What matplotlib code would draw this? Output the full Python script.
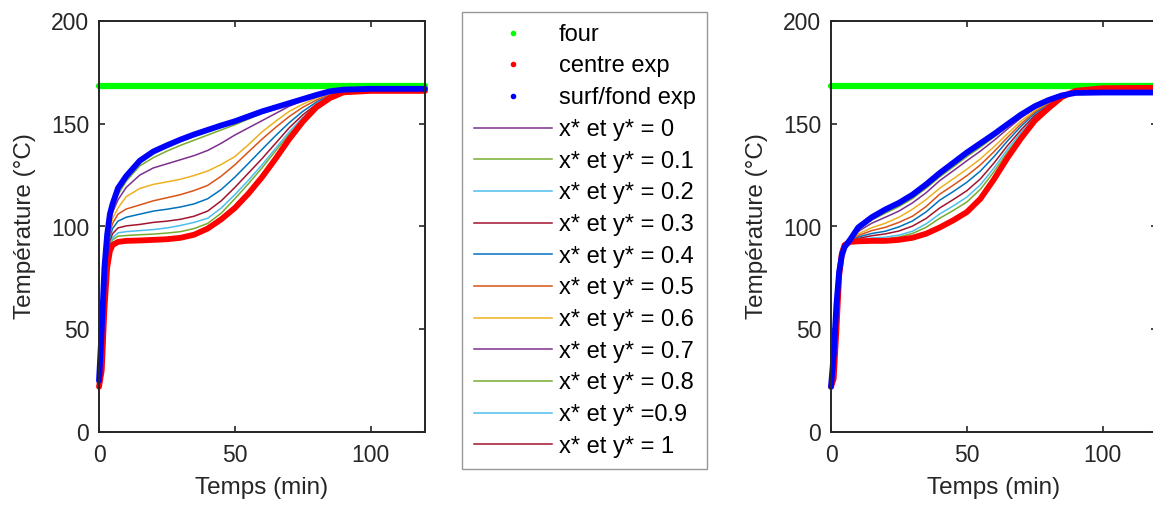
import matplotlib
matplotlib.use('Agg')
import matplotlib.pyplot as plt
from matplotlib.lines import Line2D

plt.rcParams['font.family'] = ['Liberation Sans', 'DejaVu Sans']

# temps (min)
t = [0, 1, 2, 3, 4, 5, 7, 10, 15, 20, 25, 30, 35, 40, 45, 50, 55, 60, 65, 70, 75, 80, 85, 90, 100, 120]

# four (consigne)
four = [168.4] * 26

# ---- graphe de gauche ----
centre_g = [22, 30, 60, 80, 88, 91, 92.5, 93, 93.2, 93.5, 93.8, 94.5, 96, 99, 103.5, 109, 116, 124, 133, 142.5, 151, 158, 162.5, 165.3, 166, 166]
surf_g = [25, 50, 80, 96, 106, 111, 118.7, 124.5, 132, 136.5, 139.5, 142.3, 144.8, 147, 149.2, 151.2, 153.6, 156, 158, 160, 162, 164, 165.8, 166.6, 167, 167]

g_00 = [22, 31, 61, 81, 89, 91.5, 93, 93.3, 93.6, 94, 94.4, 95, 96.7, 99.5, 104.3, 110, 117, 125, 134, 143, 151.3, 158.2, 162.7, 165.5, 166.2, 166.4]
g_01 = [22, 34, 63, 82, 90, 93.5, 95.3, 95.6, 96, 96.3, 96.8, 97.5, 99, 101.5, 106.5, 113.5, 120.8, 128.5, 136.8, 145, 152.3, 158.5, 163, 165.6, 166.3, 166.4]
g_02 = [23, 36, 65, 83, 91, 94.5, 96.9, 97.5, 98, 98.5, 99.3, 100.5, 102, 104, 109, 115.5, 122.5, 130, 138, 146, 153, 159, 163.2, 165.7, 166.3, 166.4]
g_03 = [23, 38, 67, 85, 93, 96.5, 99.3, 100.3, 101, 102, 102.6, 103.5, 105, 107.5, 112.5, 119, 126, 133, 140.5, 148, 154.3, 159.5, 163.5, 165.8, 166.4, 166.5]
g_04 = [23, 40, 70, 87, 95, 99, 102.6, 104.5, 106, 107.5, 108.4, 109.5, 111, 113.5, 118, 124, 130.7, 137.5, 144.2, 150.5, 156, 160.5, 164, 166, 166.4, 166.5]
g_05 = [24, 42, 72, 89, 97, 101.5, 106, 108.5, 110.5, 112.5, 114, 115.5, 117.5, 120, 124.5, 130, 136.3, 142.5, 148.2, 153.5, 158, 161.5, 164.3, 166, 166.5, 166.6]
g_06 = [24, 44, 74, 91, 99, 104, 109, 114.5, 118.5, 120.5, 121.7, 123, 124.8, 127, 130.2, 134, 139.8, 146, 151.2, 156, 159.5, 162.5, 164.7, 166.2, 166.5, 166.6]
g_07 = [24, 46, 76, 93, 102, 107, 113, 119, 125, 128.5, 130.5, 132.5, 134.5, 137, 140.5, 144.5, 148, 151.5, 155, 158.5, 161.2, 163.5, 165.2, 166.3, 166.6, 166.7]
g_08 = [25, 48, 78, 95, 104.5, 109.5, 115.5, 122, 129.5, 133.5, 136.7, 139.5, 142, 144.5, 147, 149.5, 152.3, 155, 157.3, 159.5, 161.8, 164, 165.5, 166.4, 166.7, 166.7]
g_09 = [25, 49, 79, 96, 105.5, 110.5, 117.5, 123.5, 131, 135.5, 138.7, 141.5, 143.8, 146, 148.3, 150.5, 153, 155.5, 157.8, 160, 162, 164, 165.6, 166.5, 166.7, 166.8]
g_10 = [25, 50, 80, 96, 106, 111, 118, 124, 131.5, 136, 139.2, 142, 144.3, 146.5, 148.8, 151, 153.5, 156, 158, 160, 162, 164, 165.7, 166.5, 166.7, 166.8]

# ---- graphe de droite ----
centre_d = [22, 26, 50, 76, 87, 91, 92.5, 92.8, 93, 93, 93.5, 94.5, 96.5, 99.5, 103, 107, 113.5, 123, 133.5, 143, 151.5, 157.5, 163, 166, 167.3, 167.5]
surf_d = [22, 38, 62, 78, 86, 90, 93.5, 99.5, 104.5, 108.3, 111.5, 115.5, 120.5, 126, 131, 136, 140.5, 145, 149.8, 154.5, 158.5, 161.5, 163.8, 165, 165.2, 165.2]

d_00 = [22, 27, 51, 76, 87, 91, 92.6, 92.9, 93.1, 93.2, 93.9, 94.9, 97.2, 100.3, 103.8, 107.9, 114.3, 123.7, 134, 143.3, 151.7, 157.6, 163.1, 166, 167.1, 167.3]
d_01 = [22, 28, 52, 76.5, 87, 91, 92.7, 93.2, 93.7, 93.9, 94.9, 96.6, 99.6, 104, 107.8, 111.9, 118.1, 126.7, 136.3, 145, 152.7, 158.2, 163.2, 165.9, 166.9, 167.1]
d_02 = [22, 29, 53, 77, 87, 90.8, 92.8, 93.6, 94.4, 94.8, 95.8, 97.7, 101.3, 106.1, 110, 114.3, 120.3, 128.5, 137.6, 145.9, 153.3, 158.5, 163.2, 165.8, 166.7, 166.9]
d_03 = [22, 30, 54, 77, 86.8, 90.7, 92.9, 94.2, 95.5, 96.4, 97.8, 100.2, 103.9, 109, 113.1, 117.4, 123.2, 130.9, 139.4, 147.1, 154, 158.9, 163.3, 165.7, 166.5, 166.7]
d_04 = [22, 31, 55, 77, 86.7, 90.6, 93, 94.9, 96.6, 97.7, 99.8, 102.7, 107.1, 112.8, 117, 121.5, 127, 134, 141.7, 148.8, 155, 159.5, 163.4, 165.6, 166.3, 166.5]
d_05 = [22, 32, 56, 77.5, 86.6, 90.5, 93.1, 95.6, 98, 99.6, 102, 105, 109.7, 115.7, 120.1, 124.7, 130, 136.4, 143.4, 150, 155.8, 159.9, 163.5, 165.5, 166.1, 166.3]
d_06 = [22, 33, 57, 77.5, 86.5, 90.4, 93.2, 96.4, 99.4, 101.6, 104.5, 108.4, 113.1, 118.6, 123.2, 127.9, 132.9, 138.8, 145.2, 151.3, 156.5, 160.4, 163.6, 165.4, 165.9, 166.1]
d_07 = [22, 34, 58, 78, 86.4, 90.3, 93.3, 97.6, 101.6, 104.5, 107.5, 111.5, 116.4, 122.3, 127.1, 132, 136.7, 141.9, 147.5, 152.9, 157.5, 160.9, 163.7, 165.3, 165.7, 165.9]
d_08 = [22, 35, 59, 78, 86.2, 90.2, 93.4, 98.6, 103.1, 106.5, 109.7, 113.6, 118.6, 124.1, 129, 134, 138.6, 143.5, 148.7, 153.7, 158, 161.2, 163.7, 165.2, 165.5, 165.7]
d_09 = [22, 36, 60, 78, 86.1, 90.1, 93.4, 99.1, 104, 107.6, 110.8, 114.7, 119.8, 125.2, 130.2, 135.1, 139.7, 144.3, 149.3, 154.2, 158.3, 161.4, 163.8, 165.1, 165.4, 165.5]
d_10 = [22, 37, 61, 78, 86, 90, 93.5, 99.4, 104.3, 108.1, 111.1, 115.1, 120.3, 125.7, 130.7, 135.7, 140.2, 144.8, 149.6, 154.4, 158.4, 161.5, 163.8, 165.1, 165.3, 165.4]

sims_g = [g_00, g_01, g_02, g_03, g_04, g_05, g_06, g_07, g_08, g_09, g_10]
sims_d = [d_00, d_01, d_02, d_03, d_04, d_05, d_06, d_07, d_08, d_09, d_10]

labels = ['x* et y* = 0', 'x* et y* = 0.1', 'x* et y* = 0.2', 'x* et y* = 0.3',
          'x* et y* = 0.4', 'x* et y* = 0.5', 'x* et y* = 0.6', 'x* et y* = 0.7',
          'x* et y* = 0.8', 'x* et y* =0.9', 'x* et y* = 1']
couleurs = ['#7E2F8E', '#77AC30', '#4DBEEE', '#A2142F', '#0072BD', '#D95319',
            '#EDB120', '#7E2F8E', '#77AC30', '#4DBEEE', '#A2142F']

W, H = 1153, 508
fig = plt.figure(figsize=(W / 100, H / 100), dpi=100)
ax_g = fig.add_axes([99 / W, 1 - 432 / H, 326 / W, 411 / H])
ax_d = fig.add_axes([831 / W, 1 - 432 / H, 326 / W, 411 / H])

lignes = []
for ax, sims, centre, surf in [(ax_g, sims_g, centre_g, surf_g), (ax_d, sims_d, centre_d, surf_d)]:
    lignes = []
    for vals, c in zip(sims, couleurs):
        l, = ax.plot(t, vals, color=c, lw=1.1)
        lignes.append(l)
    ax.plot(t, four, color='#00FF00', lw=4.5, solid_capstyle='round', clip_on=False)
    ax.plot(t, centre, color='#FF0000', lw=4.2, solid_capstyle='round',
            solid_joinstyle='round', clip_on=False)
    ax.plot(t, surf, color='#0000FF', lw=4.2, solid_capstyle='round',
            solid_joinstyle='round', clip_on=False)

    ax.set_xlim(0, 120)
    ax.set_ylim(0, 200)
    ax.set_xticks([0, 50, 100])
    ax.set_yticks([0, 50, 100, 150, 200])
    ax.tick_params(direction='in', length=4, width=1.2, top=True, right=True,
                   labelsize=16.5, colors='#262626', pad=7)
    ax.tick_params(axis='x', pad=9)
    for s in ax.spines.values():
        s.set_linewidth(1.4)
        s.set_color('#262626')
    ax.set_xlabel('Temps (min)', fontsize=17.5, color='#262626', labelpad=7)
    ax.set_ylabel('Température (°C)', fontsize=17.5, color='#262626', labelpad=11)

handles = [Line2D([], [], color='#00FF00', marker='.', ls='none', markersize=6),
           Line2D([], [], color='#FF0000', marker='.', ls='none', markersize=6),
           Line2D([], [], color='#0000FF', marker='.', ls='none', markersize=6)] + lignes
noms = ['four', 'centre exp', 'surf/fond exp'] + labels

leg = fig.legend(handles, noms, loc='upper left', bbox_to_anchor=(462 / W, 1 - 12 / H),
                 bbox_transform=fig.transFigure, fontsize=17, frameon=True, fancybox=False,
                 edgecolor='#7f7f7f', handlelength=3.3, handletextpad=0.3,
                 labelspacing=0.41, borderpad=0.5, borderaxespad=0, numpoints=1)
leg.get_frame().set_linewidth(1.0)
for txt in leg.get_texts():
    txt.set_color('#000000')

fig.savefig('out.png', dpi=100)
